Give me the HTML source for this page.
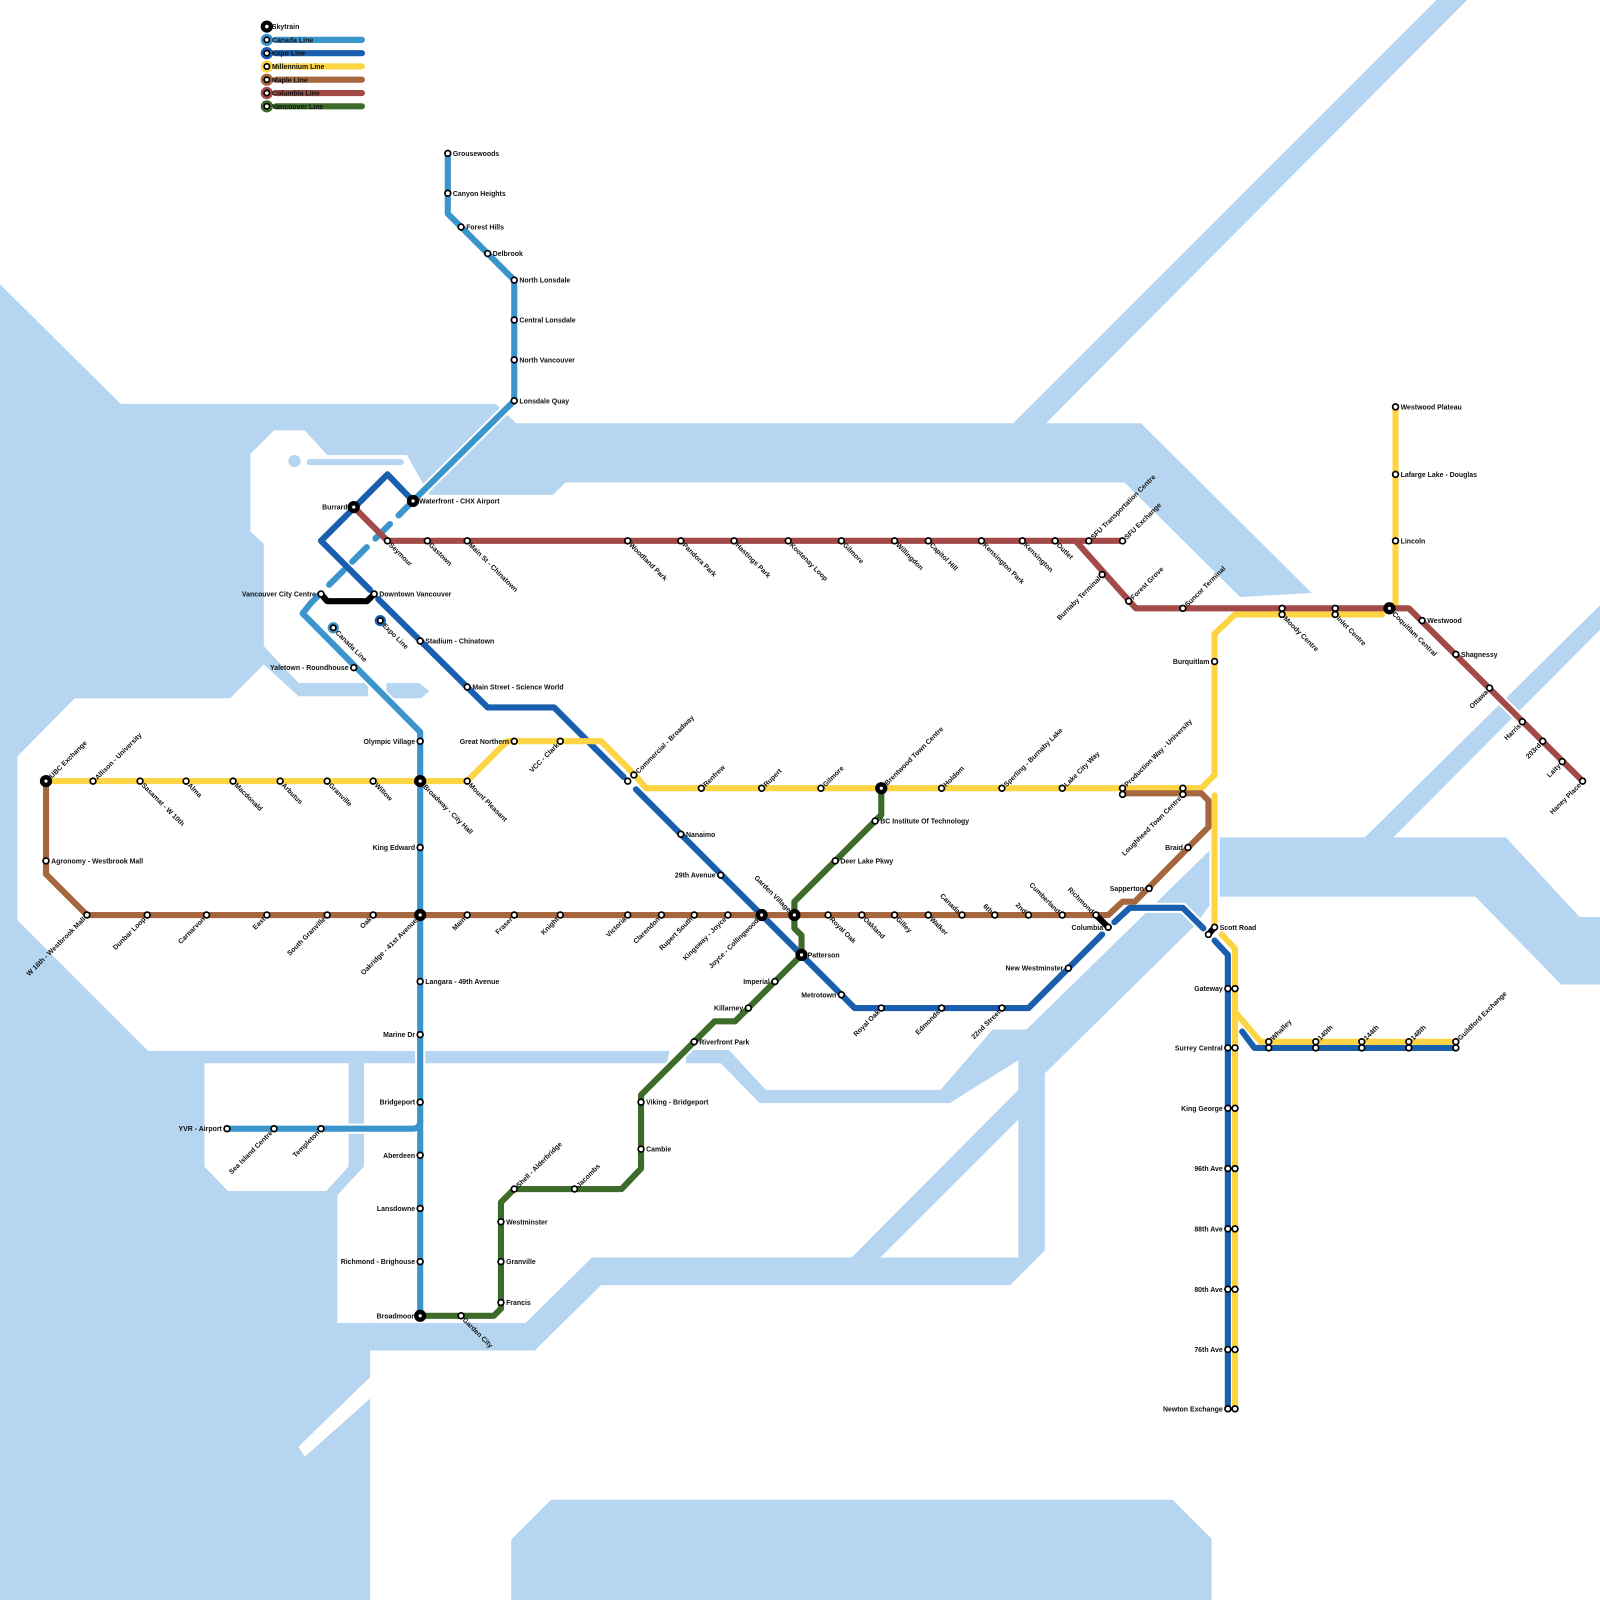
<!DOCTYPE html>
<html><head><meta charset="utf-8">
<style>
html,body{margin:0;padding:0;background:#fff;}
svg{display:block;}
text{font-family:"Liberation Sans",Arial,sans-serif;font-size:6.8px;font-weight:bold;fill:#111;}
.w{fill:#b6d5f0;}
.l{fill:#fff;}
.ln{fill:none;stroke-width:6;stroke-linejoin:round;stroke-linecap:round;}
.cs{fill:none;stroke:#fff;stroke-width:10;stroke-linejoin:round;stroke-linecap:round;}
.s{fill:#fff;stroke:#000;stroke-width:1.7;}
.i{fill:#000;}
.e{text-anchor:end;}
</style></head><body>
<svg width="1600" height="1600" viewBox="0 0 1565 1565" xmlns="http://www.w3.org/2000/svg">
<!-- WATER -->
<g>
<path class="w" d="M0,278 L118,395 L485,395 L505,414 L991,414 L1405,0 L1435,0 L1023,414 L1116,414 L1283,580 L1213,584 L1100,472 L553,472 L541,484 L420,484 L398,445 L320,445 L298,421 L268,421 L245,444 L245,520 L258,532 L258,632 L292,668 L360,668 L360,681 L292,681 L258,650 L225,683 L73,683 L17,740 L17,900 L145,1028 L655,1028 L652,1040 L0,1040 Z"/>
<rect class="w" x="300" y="449" width="95" height="6" rx="3"/>
<circle class="w" cx="288" cy="451" r="6"/>
<path class="w" d="M378,668 L410,668 L420,676 L412,683 L378,683 Z"/>
<rect class="w" x="0" y="1030" width="362" height="535"/>
<path class="w" d="M362,1294 L514,1294 L579,1230 L833,1230 L996,1066 L996,1095 L861,1230 L996,1230 L996,1037 L1022,1037 L1022,1223 L988,1257 L588,1257 L523,1321 L362,1321 Z"/>
<path class="w" d="M671,1027 L713,1027 L749,1066 L920,1066 L971,1007 L1004,1007 L1184,831 L1190,819 L1190,877 L1167,907 L1022,1050 L1022,1037 L996,1037 L929,1079 L743,1079 L705,1040 L671,1040 Z"/>
<path class="w" d="M1190,819 L1473,819 L1545,897 L1565,897 L1565,963 L1527,963 L1443,877 L1190,877 Z"/>
<path class="w" d="M1332,822 L1360,822 L1565,616 L1565,592 Z"/>
<path class="w" d="M500,1506 L539,1467 L1147,1467 L1185,1505 L1185,1565 L500,1565 Z"/>
<!-- land on top -->
<path class="l" d="M200,1040 L341,1040 L341,1141 L319,1165 L223,1165 L200,1141 Z"/>
<path class="l" d="M356,1040 L362,1040 L362,1294 L330,1294 L330,1169 L356,1141 Z"/>
<path class="l" d="M292,1415 L362,1347 L362,1368 L298,1425 Z"/>
</g>

<!-- CASINGS -->
<g class="cs">
<path d="M438,150 L438,209 L503,274 L503,392 L404,490 L296,600 L411,716 L411,1287"/>
<path d="M411,1096 L411,1104 L222,1104"/>
<path d="M404,490 L379,464 L314,529 L362,577 M370,586 L477,692 L542,692 L610,760 M622,772 L836,986 L1006,986 L1078,914 M1090,902 L1105,888 L1157,888 L1177,908 M1188,920 L1201,934 L1201,1378 M1215,1009 L1227,1025 L1424,1025"/>
<path d="M45,764 L457,764 L496,725 L588,725 L620,757 L632,771 L1175,771 L1188,758 L1188,620 L1208,601 L1352,601 M1365,595 L1365,398 M1188,778 L1188,907 M1195,914 L1208,928 L1208,1378 M1209,991 L1233,1019 L1424,1019"/>
<path d="M45,764 L45,855 L85,895 L1084,895 L1098,882 L1110,882 L1182,809 L1182,783 L1175,776 L1098,776"/>
<path d="M346,496 L379,529 L1098,529 M1052,529 L1111,595 L1378,595 L1548,764"/>
<path d="M411,1287 L483,1287 L490,1280 L490,1176 L503,1163 L608,1163 L627,1143 L627,1071 L699,999 L719,999 L784,934 L784,915 L777,908 L777,882 L856,803 L862,797 L862,771"/>
</g>

<!-- LINES -->
<g>
<path class="ln" stroke="#3a95cc" d="M438,150 L438,209 L503,274 L503,392 L404,490"/>
<path class="ln" stroke="#3a95cc" stroke-linecap="butt" stroke-dasharray="20 12" d="M404,490 L304,590"/>
<path class="ln" stroke="#3a95cc" d="M304,590 L296,600 L411,716 L411,1287"/>
<path class="ln" stroke="#3a95cc" d="M411,1096 Q411,1104 403,1104 L222,1104"/>
<path class="ln" stroke="#1a5fad" d="M404,490 L379,464 L314,529 L362,577 M370,586 L477,692 L542,692 L610,760 M622,772 L836,986 L1006,986 L1078,914 M1090,902 L1105,888 L1157,888 L1177,908 M1188,920 L1201,934 L1201,1378 M1215,1009 L1227,1025 L1424,1025"/>
<path class="ln" stroke="#fdd443" d="M45,764 L457,764 L496,725 L588,725 L620,757 L632,771 L1175,771 L1188,758 L1188,620 L1208,601 L1352,601 M1365,595 L1365,398 M1188,778 L1188,907 M1195,914 L1208,928 L1208,1378 M1209,991 L1233,1019 L1424,1019"/>
<path class="ln" stroke="#a7673e" d="M45,764 L45,855 L85,895 L1084,895 L1098,882 L1110,882 L1182,809 L1182,783 L1175,776 L1098,776"/>
<path class="ln" stroke="#a24a48" d="M346,496 L379,529 L1098,529 M1052,529 L1111,595 L1378,595 L1548,764"/>
<path class="ln" stroke="#3d6b2a" d="M411,1287 L483,1287 L490,1280 L490,1176 L503,1163 L608,1163 L627,1143 L627,1071 L699,999 L719,999 L784,934 L784,915 L777,908 L777,882 L856,803 L862,797 L862,771"/>
<path class="ln" stroke="#000" d="M314,581 L320,588 L359,588 L366,581 M1072,895 L1084,907 M1182,914 L1188,907"/>
</g>

<!-- LEGEND -->
<g>
<path class="ln" stroke="#3a95cc" d="M270,39 L354,39"/>
<path class="ln" stroke="#1a5fad" d="M270,52 L354,52"/>
<path class="ln" stroke="#fdd443" d="M270,65 L354,65"/>
<path class="ln" stroke="#a7673e" d="M270,78 L354,78"/>
<path class="ln" stroke="#a24a48" d="M270,91 L354,91"/>
<path class="ln" stroke="#3d6b2a" d="M270,104 L354,104"/>
<circle cx="261" cy="26" r="6" fill="#000"/>
<circle cx="261" cy="39" r="6" fill="#3a95cc"/>
<circle cx="261" cy="52" r="6" fill="#1a5fad"/>
<circle cx="261" cy="65" r="6" fill="#fdd443"/>
<circle cx="261" cy="78" r="6" fill="#a7673e"/>
<circle cx="261" cy="91" r="6" fill="#a24a48"/>
<circle cx="261" cy="104" r="6" fill="#3d6b2a"/>
<g class="s"><circle cx="261" cy="26" r="2.6"/><circle cx="261" cy="39" r="2.6"/><circle cx="261" cy="52" r="2.6"/><circle cx="261" cy="65" r="2.6"/><circle cx="261" cy="78" r="2.6"/><circle cx="261" cy="91" r="2.6"/><circle cx="261" cy="104" r="2.6"/></g>
<text x="266" y="28.5">Skytrain</text><text x="266" y="41.5">Canada Line</text><text x="266" y="54.5">Expo Line</text><text x="266" y="67.5">Millennium Line</text><text x="266" y="80.5">Maple Line</text><text x="266" y="93.5">Columbia Line</text><text x="266" y="106.5">Vancouver Line</text>
</g>

<!-- line markers -->
<circle cx="326" cy="614" r="5.5" fill="#3a95cc"/><circle class="s" cx="326" cy="614" r="2.6"/>
<circle cx="372" cy="607" r="5.5" fill="#1a5fad"/><circle class="s" cx="372" cy="607" r="2.6"/>
<text transform="translate(326,614) rotate(45)" x="5" y="2.5">Canada Line</text>
<text transform="translate(372,607) rotate(45)" x="5" y="2.5">Expo Line</text>

<!-- INTERCHANGES -->
<g class="i">
<circle cx="404" cy="490" r="6"/><circle cx="346" cy="496" r="6"/><circle cx="411" cy="764" r="6"/><circle cx="411" cy="895" r="6"/><circle cx="411" cy="1287" r="6"/><circle cx="45" cy="764" r="6"/><circle cx="745" cy="895" r="6"/><circle cx="777" cy="895" r="6"/><circle cx="784" cy="934" r="6"/><circle cx="862" cy="771" r="6"/><circle cx="1359" cy="595" r="6"/>
</g>

<!-- STATIONS -->
<g class="s">
<circle cx="404" cy="490" r="2.4"/><circle cx="346" cy="496" r="2.4"/><circle cx="411" cy="764" r="2.4"/><circle cx="411" cy="895" r="2.4"/><circle cx="411" cy="1287" r="2.4"/><circle cx="45" cy="764" r="2.4"/><circle cx="745" cy="895" r="2.4"/><circle cx="777" cy="895" r="2.4"/><circle cx="784" cy="934" r="2.4"/><circle cx="862" cy="771" r="2.4"/><circle cx="1359" cy="595" r="2.4"/>
<!-- canada -->
<circle cx="438" cy="150" r="2.8"/><circle cx="438" cy="189" r="2.8"/><circle cx="451" cy="222" r="2.8"/><circle cx="477" cy="248" r="2.8"/><circle cx="503" cy="274" r="2.8"/><circle cx="503" cy="313" r="2.8"/><circle cx="503" cy="352" r="2.8"/><circle cx="503" cy="392" r="2.8"/><circle cx="314" cy="581" r="2.8"/><circle cx="346" cy="653" r="2.8"/><circle cx="411" cy="725" r="2.8"/><circle cx="411" cy="829" r="2.8"/><circle cx="411" cy="960" r="2.8"/><circle cx="411" cy="1012" r="2.8"/><circle cx="411" cy="1078" r="2.8"/><circle cx="411" cy="1130" r="2.8"/><circle cx="411" cy="1182" r="2.8"/><circle cx="411" cy="1234" r="2.8"/><circle cx="314" cy="1104" r="2.8"/><circle cx="268" cy="1104" r="2.8"/><circle cx="222" cy="1104" r="2.8"/>
<!-- expo -->
<circle cx="366" cy="581" r="2.8"/><circle cx="411" cy="627" r="2.8"/><circle cx="457" cy="672" r="2.8"/><circle cx="614" cy="764" r="2.8"/><circle cx="620" cy="758" r="2.8"/><circle cx="666" cy="816" r="2.8"/><circle cx="705" cy="856" r="2.8"/><circle cx="823" cy="973" r="2.8"/><circle cx="862" cy="986" r="2.8"/><circle cx="921" cy="986" r="2.8"/><circle cx="980" cy="986" r="2.8"/><circle cx="1045" cy="947" r="2.8"/><circle cx="1084" cy="907" r="2.8"/><circle cx="1182" cy="914" r="2.8"/><circle cx="1188" cy="907" r="2.8"/>
<circle cx="1201" cy="967" r="2.8"/><circle cx="1208" cy="967" r="2.8"/><circle cx="1201" cy="1025" r="2.8"/><circle cx="1208" cy="1025" r="2.8"/><circle cx="1201" cy="1084" r="2.8"/><circle cx="1208" cy="1084" r="2.8"/><circle cx="1201" cy="1143" r="2.8"/><circle cx="1208" cy="1143" r="2.8"/><circle cx="1201" cy="1202" r="2.8"/><circle cx="1208" cy="1202" r="2.8"/><circle cx="1201" cy="1261" r="2.8"/><circle cx="1208" cy="1261" r="2.8"/><circle cx="1201" cy="1320" r="2.8"/><circle cx="1208" cy="1320" r="2.8"/><circle cx="1201" cy="1378" r="2.8"/><circle cx="1208" cy="1378" r="2.8"/>
<circle cx="1241" cy="1019" r="2.8"/><circle cx="1241" cy="1025" r="2.8"/><circle cx="1287" cy="1019" r="2.8"/><circle cx="1287" cy="1025" r="2.8"/><circle cx="1332" cy="1019" r="2.8"/><circle cx="1332" cy="1025" r="2.8"/><circle cx="1378" cy="1019" r="2.8"/><circle cx="1378" cy="1025" r="2.8"/><circle cx="1424" cy="1019" r="2.8"/><circle cx="1424" cy="1025" r="2.8"/>
<!-- millennium -->
<circle cx="91" cy="764" r="2.8"/><circle cx="137" cy="764" r="2.8"/><circle cx="182" cy="764" r="2.8"/><circle cx="228" cy="764" r="2.8"/><circle cx="274" cy="764" r="2.8"/><circle cx="320" cy="764" r="2.8"/><circle cx="365" cy="764" r="2.8"/><circle cx="457" cy="764" r="2.8"/><circle cx="503" cy="725" r="2.8"/><circle cx="548" cy="725" r="2.8"/><circle cx="686" cy="771" r="2.8"/><circle cx="745" cy="771" r="2.8"/><circle cx="803" cy="771" r="2.8"/><circle cx="921" cy="771" r="2.8"/><circle cx="980" cy="771" r="2.8"/><circle cx="1039" cy="771" r="2.8"/><circle cx="1098" cy="771" r="2.8"/><circle cx="1098" cy="777" r="2.8"/><circle cx="1157" cy="771" r="2.8"/><circle cx="1157" cy="777" r="2.8"/><circle cx="1188" cy="647" r="2.8"/><circle cx="1254" cy="595" r="2.8"/><circle cx="1254" cy="601" r="2.8"/><circle cx="1306" cy="595" r="2.8"/><circle cx="1306" cy="601" r="2.8"/><circle cx="1365" cy="529" r="2.8"/><circle cx="1365" cy="464" r="2.8"/><circle cx="1365" cy="398" r="2.8"/>
<!-- maple -->
<circle cx="45" cy="842" r="2.8"/><circle cx="85" cy="895" r="2.8"/><circle cx="144" cy="895" r="2.8"/><circle cx="202" cy="895" r="2.8"/><circle cx="261" cy="895" r="2.8"/><circle cx="320" cy="895" r="2.8"/><circle cx="365" cy="895" r="2.8"/><circle cx="457" cy="895" r="2.8"/><circle cx="503" cy="895" r="2.8"/><circle cx="548" cy="895" r="2.8"/><circle cx="614" cy="895" r="2.8"/><circle cx="647" cy="895" r="2.8"/><circle cx="679" cy="895" r="2.8"/><circle cx="712" cy="895" r="2.8"/><circle cx="810" cy="895" r="2.8"/><circle cx="843" cy="895" r="2.8"/><circle cx="875" cy="895" r="2.8"/><circle cx="908" cy="895" r="2.8"/><circle cx="941" cy="895" r="2.8"/><circle cx="973" cy="895" r="2.8"/><circle cx="1006" cy="895" r="2.8"/><circle cx="1039" cy="895" r="2.8"/><circle cx="1072" cy="895" r="2.8"/><circle cx="1124" cy="869" r="2.8"/><circle cx="1162" cy="829" r="2.8"/>
<!-- columbia -->
<circle cx="379" cy="529" r="2.8"/><circle cx="418" cy="529" r="2.8"/><circle cx="457" cy="529" r="2.8"/><circle cx="614" cy="529" r="2.8"/><circle cx="666" cy="529" r="2.8"/><circle cx="718" cy="529" r="2.8"/><circle cx="771" cy="529" r="2.8"/><circle cx="823" cy="529" r="2.8"/><circle cx="875" cy="529" r="2.8"/><circle cx="908" cy="529" r="2.8"/><circle cx="960" cy="529" r="2.8"/><circle cx="1000" cy="529" r="2.8"/><circle cx="1032" cy="529" r="2.8"/><circle cx="1065" cy="529" r="2.8"/><circle cx="1098" cy="529" r="2.8"/><circle cx="1078" cy="562" r="2.8"/><circle cx="1104" cy="588" r="2.8"/><circle cx="1157" cy="595" r="2.8"/><circle cx="1391" cy="607" r="2.8"/><circle cx="1424" cy="640" r="2.8"/><circle cx="1457" cy="673" r="2.8"/><circle cx="1489" cy="706" r="2.8"/><circle cx="1509" cy="725" r="2.8"/><circle cx="1528" cy="745" r="2.8"/><circle cx="1548" cy="764" r="2.8"/>
<!-- vancouver -->
<circle cx="451" cy="1287" r="2.8"/><circle cx="490" cy="1274" r="2.8"/><circle cx="490" cy="1234" r="2.8"/><circle cx="490" cy="1195" r="2.8"/><circle cx="503" cy="1163" r="2.8"/><circle cx="562" cy="1163" r="2.8"/><circle cx="627" cy="1124" r="2.8"/><circle cx="627" cy="1078" r="2.8"/><circle cx="679" cy="1019" r="2.8"/><circle cx="732" cy="986" r="2.8"/><circle cx="758" cy="960" r="2.8"/><circle cx="817" cy="842" r="2.8"/><circle cx="856" cy="803" r="2.8"/>
</g>

<!-- LABELS -->
<g>
<!-- Canada -->
<text x="443" y="152.5">Grousewoods</text>
<text x="443" y="191.5">Canyon Heights</text>
<text x="456" y="224.5">Forest Hills</text>
<text x="482" y="250.5">Delbrook</text>
<text x="508" y="276.5">North Lonsdale</text>
<text x="508" y="315.5">Central Lonsdale</text>
<text x="508" y="354.5">North Vancouver</text>
<text x="508" y="394.5">Lonsdale Quay</text>
<text x="410" y="492.5">Waterfront - CHX Airport</text>
<text class="e" x="309" y="583.5">Vancouver City Centre</text>
<text class="e" x="341" y="655.5">Yaletown - Roundhouse</text>
<text class="e" x="406" y="727.5">Olympic Village</text>
<text transform="translate(411,764) rotate(45)" x="6" y="2.5">Broadway - City Hall</text>
<text class="e" x="406" y="831.5">King Edward</text>
<text class="e" transform="translate(411,895) rotate(-45)" x="-6" y="2.5">Oakridge - 41st Avenue</text>
<text x="416" y="962.5">Langara - 49th Avenue</text>
<text class="e" x="406" y="1014.5">Marine Dr</text>
<text class="e" x="406" y="1080.5">Bridgeport</text>
<text class="e" x="406" y="1132.5">Aberdeen</text>
<text class="e" x="406" y="1184.5">Lansdowne</text>
<text class="e" x="406" y="1236.5">Richmond - Brighouse</text>
<text class="e" x="405" y="1289.5">Broadmoor</text>
<text class="e" transform="translate(314,1104) rotate(-45)" x="-4" y="2.5">Templeton</text>
<text class="e" transform="translate(268,1104) rotate(-45)" x="-4" y="2.5">Sea Island Centre</text>
<text class="e" x="217" y="1106.5">YVR - Airport</text>
<!-- Expo -->
<text class="e" x="340" y="498.5">Burrard</text>
<text x="371" y="583.5">Downtown Vancouver</text>
<text x="416" y="629.5">Stadium - Chinatown</text>
<text x="462" y="674.5">Main Street - Science World</text>
<text transform="translate(620,758) rotate(-45)" x="4" y="2.5">Commercial - Broadway</text>
<text x="671" y="818.5">Nanaimo</text>
<text class="e" x="700" y="858.5">29th Avenue</text>
<text class="e" transform="translate(745,895) rotate(-45)" x="-6" y="2.5">Joyce - Collingwood</text>
<text x="790" y="936.5">Patterson</text>
<text class="e" x="818" y="975.5">Metrotown</text>
<text class="e" transform="translate(862,986) rotate(-45)" x="-4" y="2.5">Royal Oak</text>
<text class="e" transform="translate(921,986) rotate(-45)" x="-4" y="2.5">Edmonds</text>
<text class="e" transform="translate(980,986) rotate(-45)" x="-4" y="2.5">22nd Street</text>
<text class="e" x="1040" y="949.5">New Westminster</text>
<text class="e" x="1079" y="909.5">Columbia</text>
<text x="1193" y="909.5">Scott Road</text>
<text class="e" x="1196" y="969.5">Gateway</text>
<text class="e" x="1196" y="1027.5">Surrey Central</text>
<text class="e" x="1196" y="1086.5">King George</text>
<text class="e" x="1196" y="1145.5">96th Ave</text>
<text class="e" x="1196" y="1204.5">88th Ave</text>
<text class="e" x="1196" y="1263.5">80th Ave</text>
<text class="e" x="1196" y="1322.5">76th Ave</text>
<text class="e" x="1196" y="1380.5">Newton Exchange</text>
<text transform="translate(1241,1019) rotate(-45)" x="4" y="2.5">Whalley</text>
<text transform="translate(1287,1019) rotate(-45)" x="4" y="2.5">140th</text>
<text transform="translate(1332,1019) rotate(-45)" x="4" y="2.5">144th</text>
<text transform="translate(1378,1019) rotate(-45)" x="4" y="2.5">148th</text>
<text transform="translate(1424,1019) rotate(-45)" x="4" y="2.5">Guildford Exchange</text>
<!-- Millennium -->
<text transform="translate(45,764) rotate(-45)" x="6" y="2.5">UBC Exchange</text>
<text transform="translate(91,764) rotate(-45)" x="4" y="2.5">Allison - University</text>
<text transform="translate(137,764) rotate(45)" x="4" y="2.5">Sasamat - W 10th</text>
<text transform="translate(182,764) rotate(45)" x="4" y="2.5">Alma</text>
<text transform="translate(228,764) rotate(45)" x="4" y="2.5">Macdonald</text>
<text transform="translate(274,764) rotate(45)" x="4" y="2.5">Arbutus</text>
<text transform="translate(320,764) rotate(45)" x="4" y="2.5">Granville</text>
<text transform="translate(365,764) rotate(45)" x="4" y="2.5">Willow</text>
<text transform="translate(457,764) rotate(45)" x="4" y="2.5">Mount Pleasant</text>
<text class="e" x="498" y="727.5">Great Northern</text>
<text class="e" transform="translate(548,725) rotate(-45)" x="-4" y="2.5">VCC - Clark</text>
<text transform="translate(686,771) rotate(-45)" x="4" y="2.5">Renfrew</text>
<text transform="translate(745,771) rotate(-45)" x="4" y="2.5">Rupert</text>
<text transform="translate(803,771) rotate(-45)" x="4" y="2.5">Gilmore</text>
<text transform="translate(862,771) rotate(-45)" x="6" y="2.5">Brentwood Town Centre</text>
<text transform="translate(921,771) rotate(-45)" x="4" y="2.5">Holdom</text>
<text transform="translate(980,771) rotate(-45)" x="4" y="2.5">Sperling - Burnaby Lake</text>
<text transform="translate(1039,771) rotate(-45)" x="4" y="2.5">Lake City Way</text>
<text transform="translate(1098,771) rotate(-45)" x="4" y="2.5">Production Way - University</text>
<text class="e" transform="translate(1157,777) rotate(-45)" x="-4" y="2.5">Loughheed Town Centre</text>
<text class="e" x="1183" y="649.5">Burquitlam</text>
<text transform="translate(1254,601) rotate(45)" x="4" y="2.5">Moody Centre</text>
<text transform="translate(1306,601) rotate(45)" x="4" y="2.5">Inlet Centre</text>
<text transform="translate(1359,595) rotate(45)" x="6" y="2.5">Coquitlam Central</text>
<text x="1370" y="531.5">Lincoln</text>
<text x="1370" y="466.5">Lafarge Lake - Douglas</text>
<text x="1370" y="400.5">Westwood Plateau</text>
<!-- Maple -->
<text x="50" y="844.5">Agronomy - Westbrook Mall</text>
<text class="e" transform="translate(85,895) rotate(-45)" x="-4" y="2.5">W 16th - Westbrook Mall</text>
<text class="e" transform="translate(144,895) rotate(-45)" x="-4" y="2.5">Dunbar Loop</text>
<text class="e" transform="translate(202,895) rotate(-45)" x="-4" y="2.5">Carnarvon</text>
<text class="e" transform="translate(261,895) rotate(-45)" x="-4" y="2.5">East</text>
<text class="e" transform="translate(320,895) rotate(-45)" x="-4" y="2.5">South Granville</text>
<text class="e" transform="translate(365,895) rotate(-45)" x="-4" y="2.5">Oak</text>
<text class="e" transform="translate(457,895) rotate(-45)" x="-4" y="2.5">Main</text>
<text class="e" transform="translate(503,895) rotate(-45)" x="-4" y="2.5">Fraser</text>
<text class="e" transform="translate(548,895) rotate(-45)" x="-4" y="2.5">Knight</text>
<text class="e" transform="translate(614,895) rotate(-45)" x="-4" y="2.5">Victoria</text>
<text class="e" transform="translate(647,895) rotate(-45)" x="-4" y="2.5">Clarendon</text>
<text class="e" transform="translate(679,895) rotate(-45)" x="-4" y="2.5">Rupert South</text>
<text class="e" transform="translate(712,895) rotate(-45)" x="-4" y="2.5">Kingsway - Joyce</text>
<text class="e" transform="translate(777,895) rotate(45)" x="-6" y="2.5">Garden Village</text>
<text transform="translate(810,895) rotate(45)" x="4" y="2.5">Royal Oak</text>
<text transform="translate(843,895) rotate(45)" x="4" y="2.5">Oakland</text>
<text transform="translate(875,895) rotate(45)" x="4" y="2.5">Gilley</text>
<text transform="translate(908,895) rotate(45)" x="4" y="2.5">Walker</text>
<text class="e" transform="translate(941,895) rotate(45)" x="-4" y="2.5">Canada</text>
<text class="e" transform="translate(973,895) rotate(45)" x="-4" y="2.5">6th</text>
<text class="e" transform="translate(1006,895) rotate(45)" x="-4" y="2.5">2nd</text>
<text class="e" transform="translate(1039,895) rotate(45)" x="-4" y="2.5">Cumberland</text>
<text class="e" transform="translate(1072,895) rotate(45)" x="-4" y="2.5">Richmond</text>
<text class="e" x="1119" y="871.5">Sapperton</text>
<text class="e" x="1157" y="831.5">Braid</text>
<!-- Columbia -->
<text transform="translate(379,529) rotate(45)" x="4" y="2.5">Seymour</text>
<text transform="translate(418,529) rotate(45)" x="4" y="2.5">Gastown</text>
<text transform="translate(457,529) rotate(45)" x="4" y="2.5">Main St - Chinatown</text>
<text transform="translate(614,529) rotate(45)" x="4" y="2.5">Woodland Park</text>
<text transform="translate(666,529) rotate(45)" x="4" y="2.5">Pandora Park</text>
<text transform="translate(718,529) rotate(45)" x="4" y="2.5">Hastings Park</text>
<text transform="translate(771,529) rotate(45)" x="4" y="2.5">Kootenay Loop</text>
<text transform="translate(823,529) rotate(45)" x="4" y="2.5">Gilmore</text>
<text transform="translate(875,529) rotate(45)" x="4" y="2.5">Willingdon</text>
<text transform="translate(908,529) rotate(45)" x="4" y="2.5">Capitol Hill</text>
<text transform="translate(960,529) rotate(45)" x="4" y="2.5">Kensington Park</text>
<text transform="translate(1000,529) rotate(45)" x="4" y="2.5">Kensington</text>
<text transform="translate(1032,529) rotate(45)" x="4" y="2.5">Outlet</text>
<text transform="translate(1065,529) rotate(-45)" x="4" y="2.5">SFU Transportation Centre</text>
<text transform="translate(1098,529) rotate(-45)" x="4" y="2.5">SFU Exchange</text>
<text class="e" transform="translate(1078,562) rotate(-45)" x="-4" y="2.5">Burnaby Terminal</text>
<text transform="translate(1104,588) rotate(-45)" x="4" y="2.5">Forest Grove</text>
<text transform="translate(1157,595) rotate(-45)" x="4" y="2.5">Suncor Terminal</text>
<text x="1396" y="609.5">Westwood</text>
<text x="1429" y="642.5">Shagnessy</text>
<text class="e" transform="translate(1457,673) rotate(-45)" x="-4" y="2.5">Ottawa</text>
<text class="e" transform="translate(1489,706) rotate(-45)" x="-4" y="2.5">Harris</text>
<text class="e" transform="translate(1509,725) rotate(-45)" x="-4" y="2.5">203rd</text>
<text class="e" transform="translate(1528,745) rotate(-45)" x="-4" y="2.5">Laity</text>
<text class="e" transform="translate(1548,764) rotate(-45)" x="-4" y="2.5">Haney Place</text>
<!-- Vancouver -->
<text transform="translate(451,1287) rotate(45)" x="4" y="2.5">Garden City</text>
<text x="495" y="1276.5">Francis</text>
<text x="495" y="1236.5">Granville</text>
<text x="495" y="1197.5">Westminster</text>
<text transform="translate(503,1163) rotate(-45)" x="4" y="2.5">Shell - Alderbridge</text>
<text transform="translate(562,1163) rotate(-45)" x="4" y="2.5">Jacombs</text>
<text x="632" y="1126.5">Cambie</text>
<text x="632" y="1080.5">Viking - Bridgeport</text>
<text x="684" y="1021.5">Riverfront Park</text>
<text class="e" x="727" y="988.5">Killarney</text>
<text class="e" x="753" y="962.5">Imperial</text>
<text x="822" y="844.5">Deer Lake Pkwy</text>
<text x="861" y="805.5">BC Institute Of Technology</text>
</g>
</svg>
</body></html>
